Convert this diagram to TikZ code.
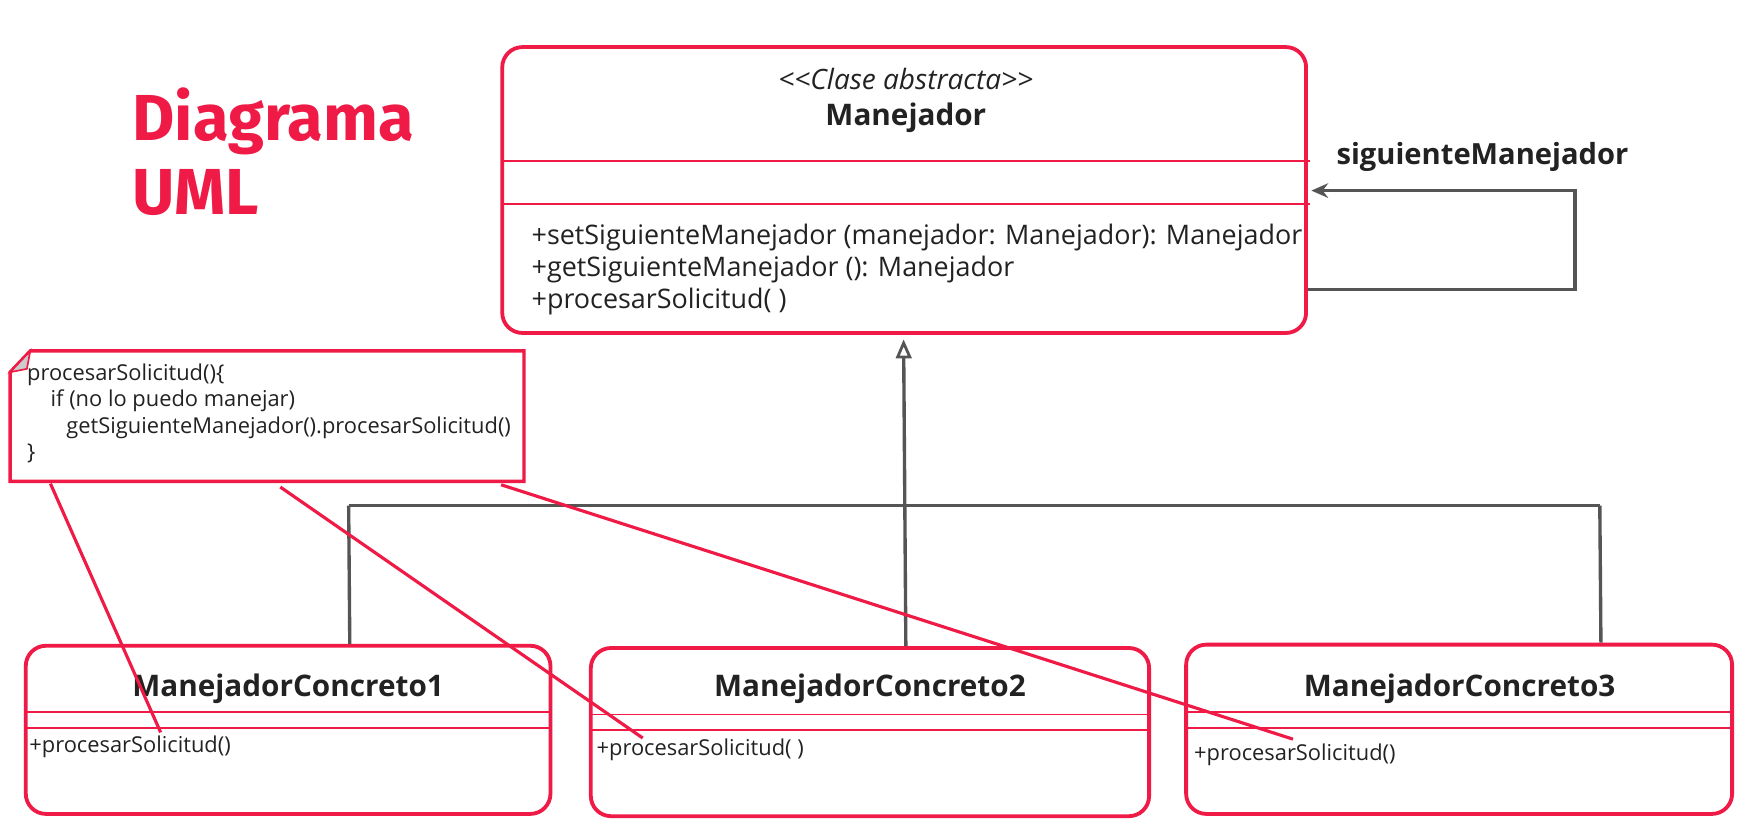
\documentclass[tikz,border=0pt]{standalone}
\usepackage{fontspec}
\setmainfont{Open Sans}
\newfontfamily\titlefont{Fira Sans}
\usetikzlibrary{calc,arrows.meta}
\definecolor{umlred}{HTML}{EF1A45}
\definecolor{conngray}{HTML}{555555}
\definecolor{txt}{HTML}{222222}
\begin{document}
\begin{tikzpicture}[x=1pt,y=-1pt,
  umlbox/.style={draw=umlred, line width=3.4pt, rounded corners=18pt, inner sep=0pt, fill=white},
  divider/.style={draw=umlred, line width=1.6pt},
  conn/.style={draw=conngray, line width=3pt},
  noteline/.style={draw=umlred, line width=2.8pt},
  methtxt/.style={text=txt, inner sep=0pt, anchor=base west},
  notetxt/.style={text=txt, inner sep=0pt, anchor=base west, font=\fontsize{19.5}{23}\selectfont},
  titletxt/.style={text=txt, inner sep=0pt, anchor=base, font=\bfseries\fontsize{26.5}{31}\selectfont}
]
\useasboundingbox (0,0) rectangle (1569,745);
\fill[white] (0,0) rectangle (1569,745);

% title
\node[text=umlred, inner sep=0pt, anchor=north west, align=left,
  font=\titlefont\bfseries\fontsize{58}{66}\selectfont] (title) at (118,78) {Diagrama\\UML};

% abstract class
\node[umlbox, minimum width=717pt, minimum height=255pt] (man) at (806.5,169.5) {};
\draw[divider] ($(man.north west)+(2,103)$) -- ($(man.north east)+(2,103)$);
\draw[divider] ($(man.north west)+(2,142)$) -- ($(man.north east)+(2,142)$);
\node[text=txt, inner sep=0pt, anchor=base, font=\itshape\fontsize{25}{30}\selectfont] (stereo) at (808,80) {<{}<Clase abstracta>{}>};
\node[titletxt] (mantitle) at (808,112) {Manejador};
\node[methtxt, font=\fontsize{24}{28}\selectfont] (m1) at (474,218) {+setSiguienteManejador (manejador: Manejador): Manejador};
\node[methtxt, font=\fontsize{24}{28}\selectfont] (m2) at (474,246.5) {+getSiguienteManejador (): Manejador};
\node[methtxt, font=\fontsize{24}{28}\selectfont] (m3) at (474,275) {+procesarSolicitud( )};

% self association
\coordinate (lp1) at (1405,258);
\coordinate (lp2) at (1405,170);
\draw[conn, -{Stealth[length=15pt,width=13pt,inset=5pt]}] (man.east |- lp1) -- (lp1) -- (lp2) -- ($(man.east |- lp2)+(3,0)$);
\node[text=txt, inner sep=0pt, anchor=base west, font=\bfseries\fontsize{26}{30}\selectfont] (assoc) at (1192,147) {siguienteManejador};

% note
\node[minimum width=458pt, minimum height=116pt, anchor=north west, inner sep=0pt] (note) at (9,313) {};
\draw[draw=umlred, line width=3pt, fill=white, line join=miter]
  ($(note.north west)+(0,19)$) -- ($(note.north west)+(18,0)$) -- (note.north east) -- (note.south east) -- (note.south west) -- cycle;
\draw[draw=umlred, line width=1.5pt, fill=gray!40]
  ($(note.north west)+(0,19)$) -- ($(note.north west)+(18,0)$) -- ($(note.north west)+(15,16)$) -- cycle;
\node[notetxt] (n1) at (24,339.5) {procesarSolicitud()\{};
\node[notetxt] (n2) at (45,363) {if (no lo puedo manejar)};
\node[notetxt] (n3) at (59,387) {getSiguienteManejador().procesarSolicitud()};
\node[notetxt] (n4) at (24,410) {\}};

% concrete classes
\node[umlbox, minimum width=468pt, minimum height=150pt] (c1) at (257,651) {};
\node[umlbox, minimum width=498pt, minimum height=150pt] (c2) at (776,653) {};
\node[umlbox, minimum width=487pt, minimum height=151pt] (c3) at (1301.5,650.5) {};
\foreach \b/\d in {c1/61, c2/61, c3/62}{
  \draw[divider] ($(\b.north west)+(0,\d)$) -- ($(\b.north east)+(0,\d)$);
  \draw[divider] ($(\b.north west)+(0,\d+14)$) -- ($(\b.north east)+(0,\d+14)$);
}
\node[titletxt] (c1t) at (257,621) {ManejadorConcreto1};
\node[titletxt] (c2t) at (776,621) {ManejadorConcreto2};
\node[titletxt] (c3t) at (1302,621) {ManejadorConcreto3};
\node[methtxt, font=\fontsize{19.5}{23}\selectfont] (c1m) at (26,671) {+procesarSolicitud()};
\node[methtxt, font=\fontsize{19.5}{23}\selectfont] (c2m) at (532,674) {+procesarSolicitud( )};
\node[methtxt, font=\fontsize{19.5}{23}\selectfont] (c3m) at (1065,678) {+procesarSolicitud()};

% generalization
\coordinate (bl) at (311,451);
\coordinate (br) at (1427,451);
\draw[conn] (bl) -- (br);
\draw[conn] (c1.north -| 312,0) -- (bl);
\draw[conn] (c3.north -| 1428,0) -- (br);
\draw[conn, -{Triangle[open,length=17pt,width=14pt,line width=2.5pt]}] (c2.north -| 808,0) -- ($(man.south -| 806,0)+(0,4)$);

% note links
\draw[noteline] ($(note.south west)+(36,2)$) -- ($(c1.north west)+(122,79)$);
\draw[noteline] ($(note.south west)+(241,5)$) -- ($(c2.north west)+(48,82)$);
\draw[noteline] ($(note.south west)+(438,3)$) -- ($(c3.north west)+(97,86)$);
\end{tikzpicture}
\end{document}
